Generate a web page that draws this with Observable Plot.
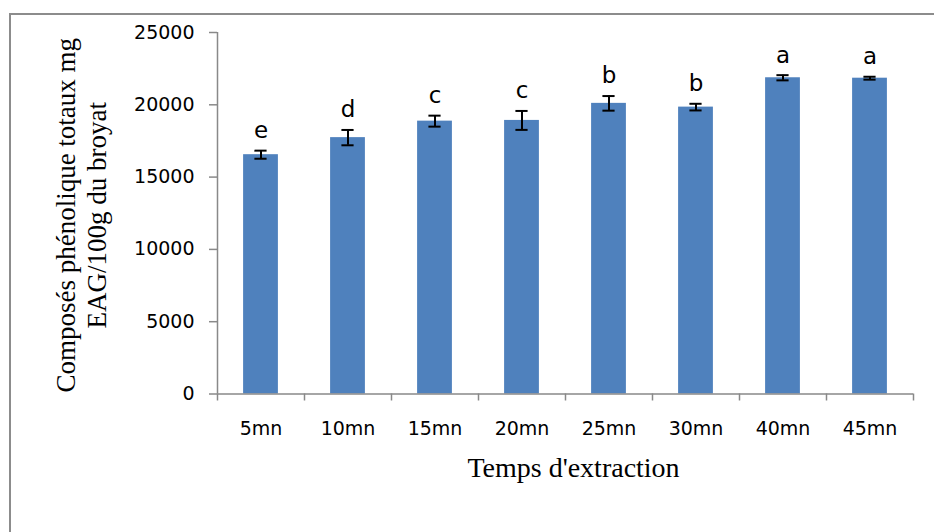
<!DOCTYPE html>
<html>
<head>
<meta charset="utf-8">
<script src="https://cdn.jsdelivr.net/npm/d3@7"></script>
<script src="https://cdn.jsdelivr.net/npm/@observablehq/plot@0.6"></script>
<style>
  html, body { margin: 0; padding: 0; background: #fff; }
  #wrap { position: relative; width: 934px; height: 532px; overflow: hidden; }
  #frame { position: absolute; left: 9px; top: 13px; width: 940px; height: 540px;
           border-top: 2px solid #8c8c8c; border-left: 2px solid #8c8c8c; box-sizing: border-box; }
  #chart { position: absolute; left: 0; top: 0; }
</style>
</head>
<body>
<div id="wrap"><div id="frame"></div><div id="chart"></div></div>
<script>
// Data
const categories = ["5mn", "10mn", "15mn", "20mn", "25mn", "30mn", "40mn", "45mn"];
const values = [16550, 17730, 18870, 18920, 20100, 19840, 21870, 21840];
const errors = [280, 530, 380, 655, 505, 230, 180, 100];
const letters = ["e", "d", "c", "c", "b", "b", "a", "a"];
const yTicks = [0, 5000, 10000, 15000, 20000, 25000];
const xTitle = "Temps d'extraction";
const yTitle = "Composés phénolique totaux mg\nEAG/100g du broyat";

const data = categories.map((c, i) => ({
  cat: c, i, value: values[i], err: errors[i], letter: letters[i]
}));

const axisColor = "#898989";
const barColor = "#4F81BD";
const n = categories.length;

const chart = Plot.plot({
  width: 934,
  height: 532,
  marginLeft: 217,
  marginRight: 21,
  marginTop: 32,
  marginBottom: 138.5,
  style: { fontFamily: "DejaVu Sans", background: "transparent", color: "#000" },
  x: { domain: [0, n], axis: null },
  y: { domain: [0, 25000], axis: null },
  marks: [
    // bars
    Plot.rectY(data, { x1: d => d.i + 0.3, x2: d => d.i + 0.7, y1: 0, y2: "value", fill: barColor }),
    // axis lines
    Plot.ruleX([0], { stroke: axisColor, strokeWidth: 1.5 }),
    Plot.ruleY([0], { stroke: axisColor, strokeWidth: 1.5 }),
    // y axis
    Plot.axisY({ ticks: yTicks, tickSize: 8, tickPadding: 15, stroke: axisColor, strokeWidth: 1.5,
                 tickFormat: d => String(d), fontSize: 19, label: null, color: "#000" }),
    // x axis boundary ticks
    Plot.axisX({ ticks: d3.range(0, n + 1), tickSize: 7, stroke: axisColor, strokeWidth: 1.5,
                 tickFormat: () => "", label: null }),
    // x axis category labels
    Plot.axisX({ ticks: d3.range(0, n).map(i => i + 0.5), tickSize: 0, tickPadding: 27,
                 tickFormat: v => categories[Math.round(v - 0.5)], fontSize: 19, label: null }),
    // error bars
    Plot.ruleX(data, { x: d => d.i + 0.5, y1: d => d.value - d.err, y2: d => d.value + d.err,
                       stroke: "#000", strokeWidth: 2 }),
    Plot.ruleY(data, { x1: d => d.i + 0.43, x2: d => d.i + 0.57, y: d => d.value + d.err,
                       stroke: "#000", strokeWidth: 2 }),
    Plot.ruleY(data, { x1: d => d.i + 0.43, x2: d => d.i + 0.57, y: d => d.value - d.err,
                       stroke: "#000", strokeWidth: 2 }),
    // significance letters
    Plot.text(data, { x: d => d.i + 0.5, y: d => d.value + d.err, text: "letter", dy: -20,
                      fontSize: 23, fill: "#000", lineAnchor: "middle" }),
    // axis titles
    Plot.text([xTitle], { frameAnchor: "bottom", dx: 8, dy: 74, fontSize: 28,
                          fontFamily: "Liberation Serif", fill: "#000", lineAnchor: "middle" }),
    Plot.text([yTitle], { frameAnchor: "left", dx: -137, dy: 2, rotate: -90, fontSize: 27,
                          lineHeight: 1.15, fontFamily: "Liberation Serif", fill: "#000",
                          lineAnchor: "middle", textAnchor: "middle" })
  ]
});
document.getElementById("chart").appendChild(chart);
</script>
</body>
</html>
